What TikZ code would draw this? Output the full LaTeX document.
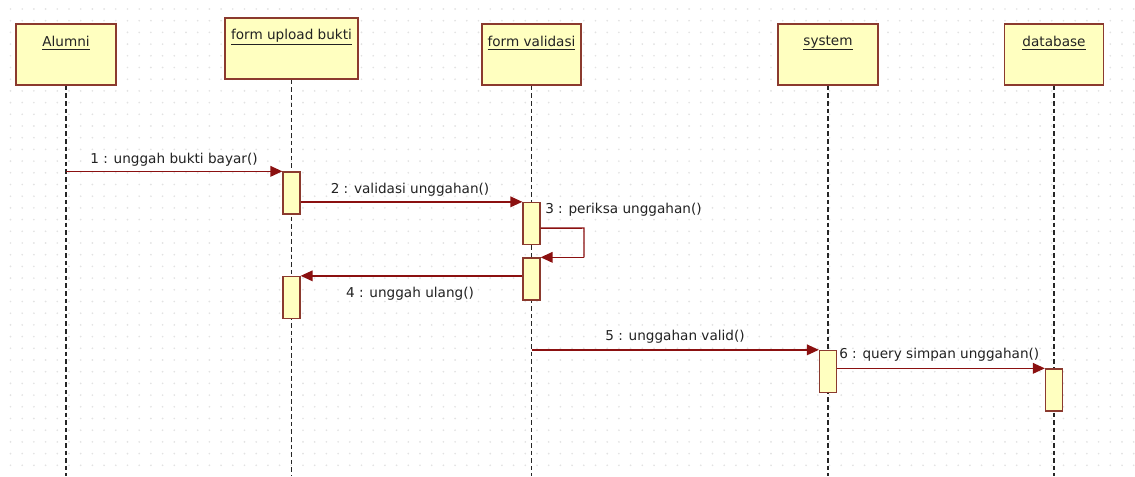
\documentclass[tikz,border=0pt]{standalone}
\usepackage{fontspec}
\setmainfont{DejaVu Sans}
\usetikzlibrary{arrows.meta}
\definecolor{msgred}{HTML}{8B1010}
\definecolor{boxborder}{HTML}{8B3A2E}
\definecolor{boxfill}{HTML}{FFFFC0}
\definecolor{gridgray}{HTML}{E2E2E2}
\definecolor{txt}{HTML}{222222}
\begin{document}
\begin{tikzpicture}[x=0.75pt,y=-0.75pt,
  objbox/.style={draw=boxborder, fill=boxfill, line width=1.2pt, inner sep=0pt, minimum height=45.75pt},
  actbox/.style={draw=boxborder, fill=boxfill, line width=1pt, inner sep=0pt, minimum width=12.75pt, minimum height=31.5pt},
  objlbl/.style={font=\fontsize{10.2pt}{12pt}\selectfont, text=txt, inner sep=0pt},
  msglbl/.style={font=\fontsize{10.2pt}{12pt}\selectfont, text=txt, inner sep=0pt},
  lifeline/.style={line width=1pt, dash pattern=on 3.5pt off 2.2pt, black!85},
  msg/.style={draw=msgred, line width=1.1pt, -{Triangle[length=9pt,width=8pt]}, color=msgred}
]
\useasboundingbox (0,0) rectangle (1135,476);
\fill[white] (0,0) rectangle (1135,476);
% dotted grid
\foreach \i in {0,...,96}{
  \foreach \j in {0,...,39}{
    \fill[gridgray] (10.5+11.7*\i, 9+11.7*\j) circle (0.7pt);
  }
}
\coordinate (bottom) at (0,476);
% object boxes
\node[objbox, minimum width=75pt] (alumni) at (66,54.5) {};
\node[objbox, minimum width=99.75pt] (ful) at (291.5,48.5) {};
\node[objbox, minimum width=74.25pt] (val) at (531.5,54.5) {};
\node[objbox, minimum width=75pt] (sys) at (828,54.5) {};
\node[objbox, minimum width=74.25pt] (db) at (1054,54.5) {};
\node[objlbl] (alumniT) at (66,43) {\underline{Alumni}};
\node[objlbl] (fulT) at (291.5,37) {\underline{form upload bukti}};
\node[objlbl] (valT) at (531.5,43) {\underline{form validasi}};
\node[objlbl] (sysT) at (828,43) {\underline{system}};
\node[objlbl] (dbT) at (1054,43) {\underline{database}};
% lifelines
\foreach \o in {alumni,ful,val,sys,db}{
  \draw[lifeline] (\o.south) -- (\o.south |- bottom);
}
% activations
\node[actbox] (a1) at (291.5,193) {};
\node[actbox] (a2) at (291.5,297.5) {};
\node[actbox] (a3) at (531.5,223.5) {};
\node[actbox] (a4) at (531.5,279) {};
\node[actbox] (a5) at (828,371.5) {};
\node[actbox] (a6) at (1054,390) {};
% messages
\draw[msg] (a1.north west -| alumni.south) -- (a1.north west);
\node[msglbl] (m1) at (174,160) {1 : unggah bukti bayar()};
\draw[msg] (a3.north west -| a1.east) -- (a3.north west);
\node[msglbl] (m2) at (410,190) {2 : validasi unggahan()};
\coordinate (s1) at ([yshift=-3.5pt]a3.east);
\coordinate (s2) at (584,228);
\draw[draw=msgred, line width=1.1pt] (s1) -- (s2) -- (s2 |- a4.north east);
\draw[msg] (s2 |- a4.north east) -- (a4.north east);
\node[msglbl, anchor=west] (m3) at (545,210) {3 : periksa unggahan()};
\draw[msg] (a2.north east -| a4.west) -- (a2.north east);
\node[msglbl] (m4) at (410,294) {4 : unggah ulang()};
\draw[msg] (a5.north west -| val.south) -- (a5.north west);
\node[msglbl] (m5) at (675,337) {5 : unggahan valid()};
\draw[msg] (a6.north west -| a5.east) -- (a6.north west);
\node[msglbl, anchor=west] (m6) at (839,355) {6 : query simpan unggahan()};
\end{tikzpicture}
\end{document}
